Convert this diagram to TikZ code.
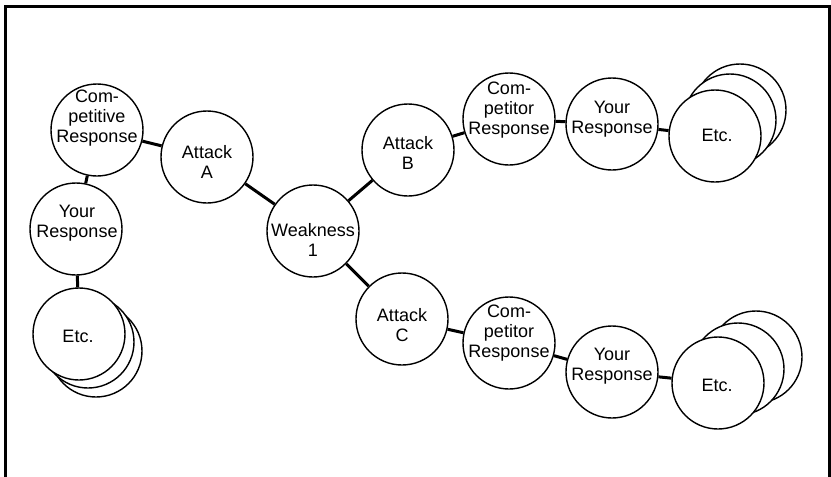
\documentclass[tikz,border=0pt]{standalone}
\usepackage{fontspec}
\setmainfont{Liberation Sans}
\begin{document}
\begin{tikzpicture}[x=1pt,y=-1pt,
  ball/.style={circle,draw=black,line width=1.4pt,fill=white,inner sep=0pt,minimum size=92pt},
  lbl/.style={align=center,font=\fontsize{18}{20}\selectfont,inner sep=0pt},
  link/.style={line width=3pt,black},
  frame/.style={line width=3pt,black}]
\useasboundingbox (0,0) rectangle (831,477);
% open frame: left, top and right sides
\draw[frame] (5,477) -- (5,6.5) -- (829,6.5) -- (829,477);

% stacked "Etc." circles behind the front ones
\node[ball] (etcl3) at (96,351) {};
\node[ball] (etcl2) at (88,342) {};
\node[ball] (etcb3) at (740,110) {};
\node[ball] (etcb2) at (730,120) {};
\node[ball] (etcc3) at (756,357) {};
\node[ball] (etcc2) at (738,369) {};

% main circles
\node[ball] (cr)  at (97,130) {};
\node[ball] (aa)  at (207,157) {};
\node[ball] (yrl) at (76,229) {};
\node[ball] (etcl) at (79,334) {};
\node[ball] (wk)  at (313,231) {};
\node[ball] (ab)  at (408,150) {};
\node[ball] (cb)  at (509,119) {};
\node[ball] (yb)  at (612,124) {};
\node[ball] (etcb) at (715,136) {};
\node[ball] (ac)  at (402,319) {};
\node[ball] (cc)  at (509,343) {};
\node[ball] (yc)  at (612,372) {};
\node[ball] (etcc) at (718,383) {};

% connectors
\draw[link] (cr) -- (aa);
\draw[link] (cr) -- (yrl);
\draw[link] (yrl) -- (etcl);
\draw[link] (aa) -- (wk);
\draw[link] (wk) -- (ab);
\draw[link] (wk) -- (ac);
\draw[link] (ab) -- (cb);
\draw[link] (cb) -- (yb);
\draw[link] (yb) -- (etcb);
\draw[link] (ac) -- (cc);
\draw[link] (cc) -- (yc);
\draw[link] (yc) -- (etcc);

% labels
\path (cr) ++(0,-12) node[lbl] (crt) {Com-\\petitive\\Response};
\path (aa) ++(0,5) node[lbl] (aat) {Attack\\A};
\path (yrl) ++(1,-6) node[lbl] (yrlt) {Your\\Response};
\path (etcl) ++(-1,2) node[lbl] (etclt) {Etc.};
\path (wk) ++(0,9) node[lbl] (wkt) {Weakness\\1};
\path (ab) ++(0,3) node[lbl] (abt) {Attack\\B};
\path (cb) ++(0,-9) node[lbl] (cbt) {Com-\\petitor\\Response};
\path (yb) ++(0,-5) node[lbl] (ybt) {Your\\Response};
\path (etcb) ++(2,-1) node[lbl] (etcbt) {Etc.};
\path (ac) ++(0,6) node[lbl] (act) {Attack\\C};
\path (cc) ++(0,-10) node[lbl] (cct) {Com-\\petitor\\Response};
\path (yc) ++(0,-6) node[lbl] (yct) {Your\\Response};
\path (etcc) ++(-1,2) node[lbl] (etcct) {Etc.};
\end{tikzpicture}
\end{document}
